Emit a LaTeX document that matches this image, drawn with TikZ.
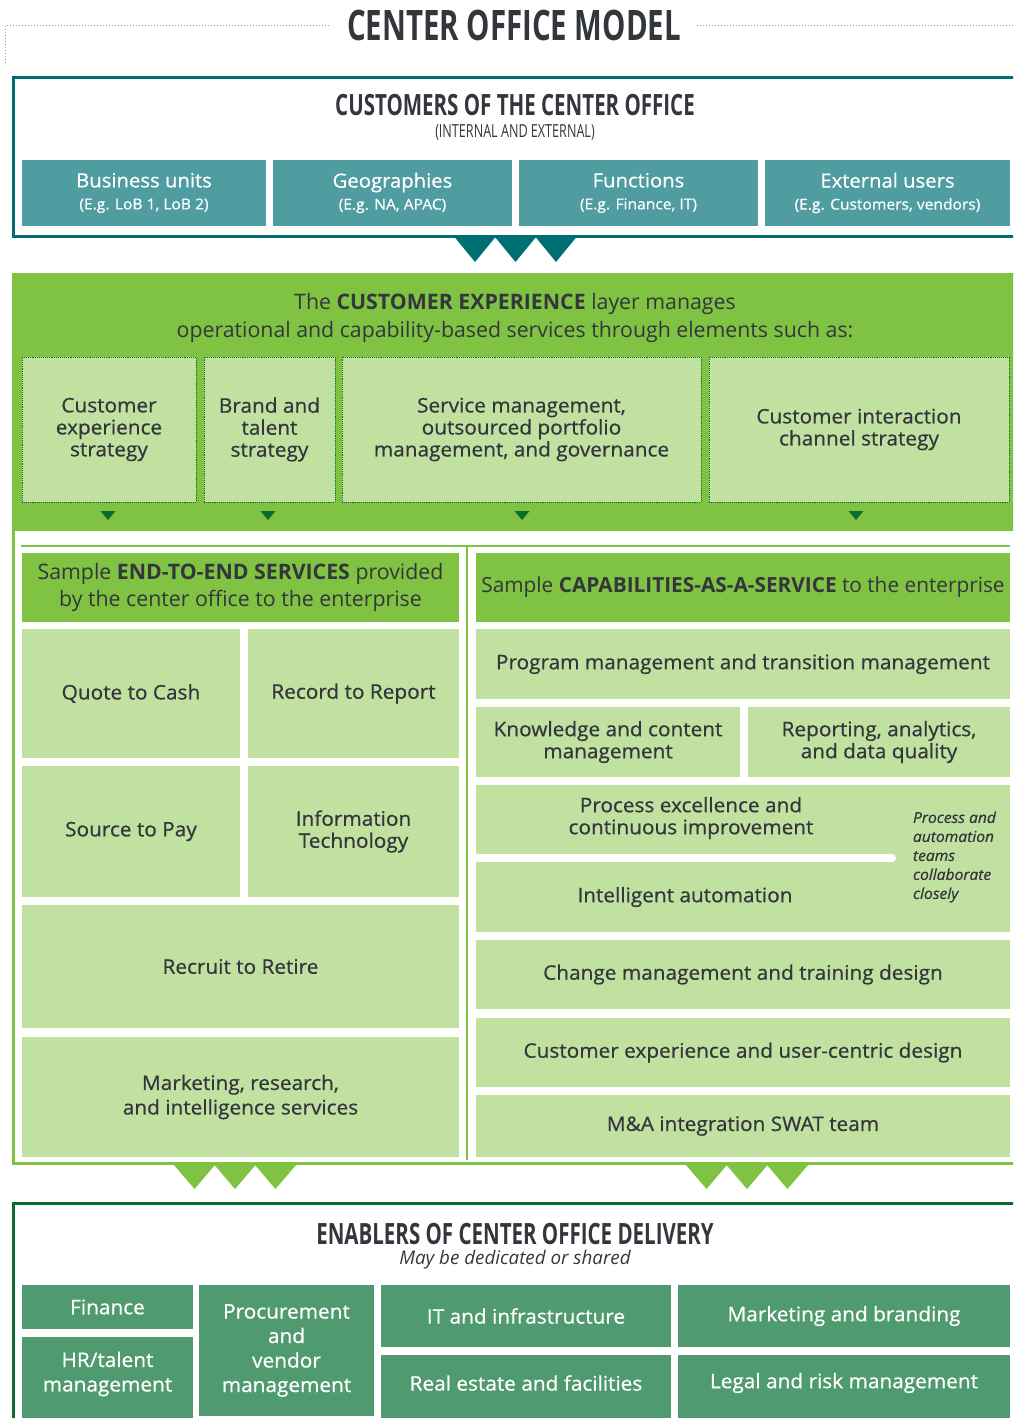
\documentclass[tikz,border=0pt]{standalone}
\usepackage{fontspec}
\setmainfont{Open Sans}
\newfontfamily\condfont[FakeStretch=0.7]{Open Sans}
\newfontfamily\semifont[FakeBold=0.6,FakeStretch=1.04]{Open Sans}
\definecolor{tealdark}{HTML}{006F72}
\definecolor{tealfill}{HTML}{4F9CA1}
\definecolor{gmain}{HTML}{80C241}
\definecolor{glight}{HTML}{C0E1A0}
\definecolor{gdark}{HTML}{0B6B33}
\definecolor{enfill}{HTML}{4F9A6F}
\definecolor{txt}{HTML}{33363C}
\definecolor{dotgray}{HTML}{999999}
\newcommand\fs[2]{\fontsize{#1}{#2}\selectfont}
% box node from its corners: name, x1, y1, x2, y2, style, text
\newcommand\bx[7]{\node[cell,#6,minimum width={(#4-#2)*1pt},minimum height={(#5-#3)*1pt}] (#1) at ({(#2+#4)/2},{(#3+#5)/2}) {#7};}
% downward triangle: apex x, top y, base width, height, colour
\newcommand\tri[5]{\fill[#5] ({#1-#3/2},#2) -- ({#1+#3/2},#2) -- (#1,{#2+#4}) -- cycle;}
\tikzset{
  cell/.style={rectangle,inner sep=0pt,outer sep=0pt,align=center},
  tealbox/.style={fill=tealfill,text=white,font=\semifont\fs{19.5}{22}},
  elbox/.style={fill=glight,draw=gdark,densely dotted,line width=0.9pt,text=txt,font=\semifont\fs{20}{22}},
  lgbox/.style={fill=glight,text=txt,font=\semifont\fs{20}{22}},
  hdrbox/.style={fill=gmain,text=txt,font=\fs{21.3}{27}},
  enbox/.style={fill=enfill,text=white,font=\semifont\fs{20}{24.5}},
  plain/.style={inner sep=0pt,outer sep=0pt,align=center,text=txt},
}
\begin{document}
\begin{tikzpicture}[x=1pt,y=-1pt]
\useasboundingbox (0,0) rectangle (1013,1418);
\clip (0,0) rectangle (1013,1418);

% heading with dotted guide lines
\node[plain,font=\condfont\bfseries\fs{42}{46}] (title) at (514,25) {CENTER OFFICE MODEL};
\draw[dotgray,dotted,line width=1pt] (5,63) -- (5,26) -- (330,26);
\draw[dotgray,dotted,line width=1pt] (697,26) -- (1013,26);

% customers of the center office
\draw[tealdark,line width=3pt] (13.5,78) rectangle (1030,236);
\node[plain,font=\condfont\bfseries\fs{29.3}{32}] (cust) at (515,105) {CUSTOMERS OF THE CENTER OFFICE};
\node[plain,font=\condfont\fs{18}{20}] (custsub) at (515,132) {(INTERNAL AND EXTERNAL)};
\bx{bu}{22}{160}{266}{226}{tealbox}{Business units\\{\fs{15}{18}(E.g. LoB 1, LoB 2)}}
\bx{geo}{273}{160}{512}{226}{tealbox}{Geographies\\{\fs{15}{18}(E.g. NA, APAC)}}
\bx{fun}{519}{160}{758}{226}{tealbox}{Functions\\{\fs{15}{18}(E.g. Finance, IT)}}
\bx{ext}{765}{160}{1010}{226}{tealbox}{External users\\{\fs{15}{18}(E.g. Customers, vendors)}}
\tri{475}{237}{41}{25}{tealdark}
\tri{515.5}{237}{41}{25}{tealdark}
\tri{556}{237}{41}{25}{tealdark}

% customer experience layer
\draw[gmain,line width=3pt] (13.5,274) rectangle (1030,1163.5);
\fill[gmain] (12,273) rectangle (1030,531);
\node[plain,font=\fs{21.3}{28}] (cxhead) at (515,318) {The \textbf{CUSTOMER EXPERIENCE} layer manages\\operational and capability-based services through elements such as:};
\bx{cxs}{22}{357}{196}{502}{elbox}{Customer\\experience\\strategy}
\bx{bts}{204}{357}{335}{502}{elbox}{Brand and\\talent\\strategy}
\bx{smg}{342}{357}{701}{502}{elbox}{Service management,\\outsourced portfolio\\management, and governance}
\bx{cic}{709}{357}{1009}{502}{elbox}{Customer interaction\\channel strategy}
\tri{108}{511}{15}{9}{gdark}
\tri{268}{511}{15}{9}{gdark}
\tri{522}{511}{15}{9}{gdark}
\tri{856}{511}{15}{9}{gdark}

% services and capabilities
\draw[gmain,line width=2.5pt] (21,546) -- (1010,546);
\draw[gmain,line width=2pt] (467,546) -- (467,1160);

\bx{e2e}{22}{553}{459}{622}{hdrbox}{Sample \textbf{END-TO-END SERVICES} provided\\by the center office to the enterprise}
\bx{q2c}{22}{629}{240}{758}{lgbox}{Quote to Cash}
\bx{r2r}{248}{629}{459}{758}{lgbox}{Record to Report}
\bx{s2p}{22}{766}{240}{897}{lgbox}{Source to Pay}
\bx{itc}{248}{766}{459}{897}{lgbox}{Information\\Technology}
\bx{rec}{22}{905}{459}{1028}{lgbox}{Recruit to Retire}
\bx{mri}{22}{1037}{459}{1157}{lgbox,font=\semifont\fs{20}{24.5}}{Marketing, research,\\and intelligence services}

\bx{caas}{476}{553}{1010}{622}{hdrbox,font=\fs{20.8}{27}}{Sample \textbf{CAPABILITIES-AS-A-SERVICE} to the enterprise}
\bx{pgm}{476}{629}{1010}{699}{lgbox}{Program management and transition management}
\bx{kcm}{476}{707}{740}{777}{lgbox}{Knowledge and content\\management}
\bx{rad}{748}{707}{1010}{777}{lgbox}{Reporting, analytics,\\and data quality}
\bx{pia}{476}{785}{1010}{932}{lgbox}{}
\draw[white,line width=8pt,line cap=round] (476,858) -- (892,858);
\node[plain,font=\semifont\fs{20}{22}] (pex) at (691,818) {Process excellence and\\continuous improvement};
\node[plain,font=\semifont\fs{20}{22}] (iau) at (685,897) {Intelligent automation};
\node[plain,anchor=west,align=left,font=\semifont\itshape\fs{15}{19}] (note) at (913,857) {Process and\\automation\\teams\\collaborate\\closely};
\bx{chg}{476}{940}{1010}{1009}{lgbox}{Change management and training design}
\bx{cux}{476}{1018}{1010}{1087}{lgbox}{Customer experience and user-centric design}
\bx{mna}{476}{1095}{1010}{1157}{lgbox}{M\&A integration SWAT team}

\tri{194.5}{1165}{41}{24}{gmain}
\tri{235}{1165}{41}{24}{gmain}
\tri{275.5}{1165}{41}{24}{gmain}
\tri{706.5}{1165}{41}{24}{gmain}
\tri{747}{1165}{41}{24}{gmain}
\tri{787.5}{1165}{41}{24}{gmain}

% enablers of center office delivery
\draw[gdark,line width=3pt] (13.5,1203) rectangle (1030,1440);
\node[plain,font=\condfont\bfseries\fs{29.3}{32}] (enab) at (515,1234) {ENABLERS OF CENTER OFFICE DELIVERY};
\node[plain,font=\itshape\fs{18.8}{20}] (enabsub) at (515,1259.5) {May be dedicated or shared};
% the lower row runs on past the bottom edge
\fill[enfill] (22,1400) rectangle (193,1418);
\fill[enfill] (381,1400) rectangle (671,1418);
\fill[enfill] (678,1400) rectangle (1010,1418);
\bx{fin}{22}{1285}{193}{1329}{enbox}{Finance}
\bx{hrt}{22}{1337}{193}{1411}{enbox}{HR/talent\\management}
\bx{prc}{199}{1285}{374}{1416}{enbox}{Procurement\\and\\vendor\\management}
\bx{iti}{381}{1285}{671}{1347}{enbox}{IT and infrastructure}
\bx{ref}{381}{1355}{671}{1411}{enbox}{Real estate and facilities}
\bx{mkb}{678}{1285}{1010}{1347}{enbox}{Marketing and branding}
\bx{lrm}{678}{1355}{1010}{1411}{enbox}{Legal and risk management}
\end{tikzpicture}
\end{document}
